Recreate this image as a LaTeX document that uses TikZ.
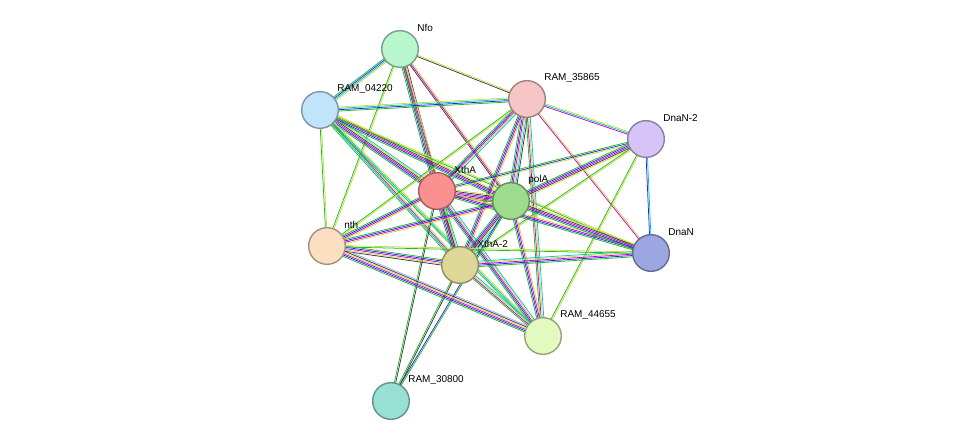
\documentclass[tikz,border=0pt]{standalone}
\usepackage{fontspec}
\setmainfont{Liberation Sans}
\usetikzlibrary{calc}
\definecolor{sg}{RGB}{30,190,30}
\definecolor{sy}{RGB}{200,220,60}
\definecolor{sm}{RGB}{210,0,210}
\definecolor{sc}{RGB}{0,200,200}
\definecolor{sb}{RGB}{40,40,240}
\definecolor{sk}{RGB}{60,60,60}
\definecolor{sr}{RGB}{230,30,30}
\definecolor{sl}{RGB}{150,170,250}
\tikzset{
  prot/.style={circle,minimum size=1.1cm,line width=1.2pt,inner sep=0pt},
  plabel/.style={anchor=west,font=\fontsize{8.5}{10}\selectfont,inner sep=1pt},
  lnkline/.style={line width=0.65pt}
}
% #1,#2 end points, #3 number of lines, #4 colours
\newcommand\lnk[4]{%
  \foreach \c [count=\i] in {#4} {
    \pgfmathsetmacro\off{(\i-1-(#3-1)/2)*1.15}
    \draw[lnkline,\c] ($(#1)!\off pt!90:(#2)$) -- ($(#2)!\off pt!-90:(#1)$);
  }}
\begin{document}
\begin{tikzpicture}[x=0.03cm,y=-0.03cm]
\useasboundingbox (0,0) rectangle (975,446);
\coordinate (nfo) at (400,49);
\coordinate (r04220) at (320,110);
\coordinate (r35865) at (527,99);
\coordinate (dnan2) at (646,139);
\coordinate (xtha) at (437,191);
\coordinate (pola) at (511,201);
\coordinate (nth) at (327,246);
\coordinate (xtha2) at (460,265);
\coordinate (dnan) at (651,253);
\coordinate (r44655) at (543,336);
\coordinate (r30800) at (391,401);
% links
\lnk{nfo}{r04220}{4}{sg,sb,sc,sy}
\lnk{nfo}{r35865}{2}{sk,sy}
\lnk{nfo}{xtha}{5}{sg,sb,sm,sy,sk}
\lnk{nfo}{pola}{3}{sk,sm,sy}
\lnk{nfo}{xtha2}{3}{sg,sm,sy}
\lnk{nfo}{nth}{2}{sg,sy}
\lnk{r04220}{r35865}{4}{sg,sb,sc,sy}
\lnk{r04220}{xtha}{6}{sg,sb,sm,sk,sy,sc}
\lnk{r04220}{pola}{5}{sg,sb,sm,sk,sy}
\lnk{r04220}{xtha2}{4}{sg,sc,sm,sy}
\lnk{r04220}{nth}{2}{sg,sy}
\lnk{r04220}{dnan}{2}{sg,sy}
\lnk{r04220}{r44655}{3}{sg,sc,sy}
\lnk{r35865}{xtha}{5}{sg,sb,sm,sy,sc}
\lnk{r35865}{pola}{6}{sg,sb,sm,sy,sc,sk}
\lnk{r35865}{xtha2}{4}{sg,sb,sm,sy}
\lnk{r35865}{dnan2}{3}{sm,sc,sy}
\lnk{r35865}{dnan}{2}{sm,sy}
\lnk{r35865}{r44655}{4}{sg,sm,sy,sc}
\lnk{r35865}{nth}{2}{sg,sy}
\lnk{dnan2}{xtha}{3}{sg,sb,sy}
\lnk{dnan2}{pola}{5}{sg,sb,sm,sk,sy}
\lnk{dnan2}{xtha2}{2}{sg,sy}
\lnk{dnan2}{dnan}{2}{sb,sc}
\lnk{dnan2}{r44655}{2}{sg,sy}
\lnk{xtha}{pola}{6}{sg,sr,sb,sm,sk,sy}
\lnk{xtha}{xtha2}{6}{sg,sb,sm,sk,sy,sc}
\lnk{xtha}{nth}{4}{sg,sb,sm,sy}
\lnk{xtha}{dnan}{4}{sg,sb,sm,sy}
\lnk{xtha}{r44655}{5}{sg,sb,sm,sy,sc}
\lnk{xtha}{r30800}{2}{sg,sk}
\lnk{pola}{xtha2}{6}{sg,sb,sm,sk,sy,sc}
\lnk{pola}{nth}{4}{sg,sb,sm,sy}
\lnk{pola}{dnan}{5}{sg,sb,sm,sk,sy}
\lnk{pola}{r44655}{4}{sg,sb,sm,sy}
\lnk{pola}{r30800}{2}{sb,sg}
\lnk{xtha2}{nth}{5}{sg,sb,sm,sy,sk}
\lnk{xtha2}{dnan}{5}{sg,sb,sm,sy,sc}
\lnk{xtha2}{r44655}{4}{sg,sm,sy,sc}
\lnk{xtha2}{r30800}{2}{sg,sk}
\lnk{nth}{r44655}{6}{sg,sb,sm,sy,sk,sl}
\lnk{nth}{dnan}{2}{sg,sy}
% proteins
\foreach \n/\f/\t in {nfo/{184,246,206}/Nfo,
    r04220/{194,228,250}/RAM\_04220,
    r35865/{246,198,198}/RAM\_35865,
    dnan2/{214,196,248}/DnaN-2,
    xtha/{250,144,144}/XthA,
    pola/{156,220,140}/polA,
    nth/{252,222,192}/nth,
    xtha2/{222,216,152}/XthA-2,
    dnan/{156,166,224}/DnaN,
    r44655/{226,250,192}/RAM\_44655,
    r30800/{152,224,212}/RAM\_30800} {
  \definecolor{pc}{RGB}\f
  \node[prot,fill=pc,draw=pc!65!black] (\n-c) at (\n) {};
  \node[plabel] (\n-l) at ($(\n)+(16,-21)$) {\t};
}
\end{tikzpicture}
\end{document}
